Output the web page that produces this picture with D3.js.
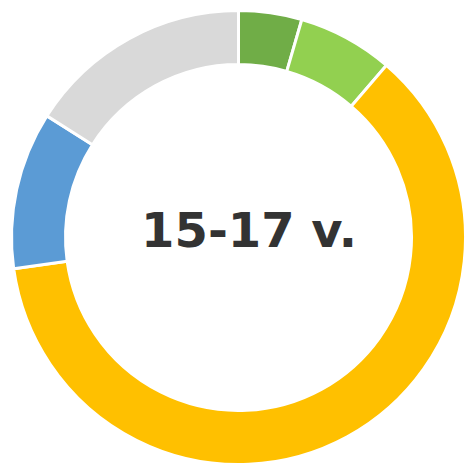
<!DOCTYPE html>
<html>
<head>
<meta charset="utf-8">
<script src="https://cdn.jsdelivr.net/npm/d3@7"></script>
<style>
  html, body { margin: 0; padding: 0; background: #fff; }
</style>
</head>
<body>
<svg id="chart" width="467" height="465"></svg>
<script>
// segment shares, clockwise from 12 o'clock
const categories = ["A", "B", "C", "D", "E"];
const values = [4.5, 6.8, 61.5, 11.2, 16.0];
const colors = ["#70AD47", "#92D050", "#FFC000", "#5B9BD5", "#D9D9D9"];
const title = "15-17 v.";

const svg = d3.select("#chart");
const cx = 238.5, cy = 237.5;
const outerR = 227, innerR = 173;

const pie = d3.pie().sort(null).value(d => d.value);
const arc = d3.arc().innerRadius(innerR).outerRadius(outerR);

const data = categories.map((c, i) => ({ cat: c, value: values[i], color: colors[i] }));

const g = svg.append("g").attr("transform", `translate(${cx},${cy})`);

g.selectAll("path")
  .data(pie(data))
  .enter()
  .append("path")
  .attr("d", arc)
  .attr("fill", d => d.data.color)
  .attr("stroke", "#fff")
  .attr("stroke-width", 3)
  .attr("stroke-linejoin", "miter");

svg.append("text")
  .attr("x", cx + 10.5)
  .attr("y", 247)
  .attr("text-anchor", "middle")
  .attr("font-family", "Verdana, 'DejaVu Sans', sans-serif")
  .attr("font-weight", "bold")
  .attr("font-size", 48)
  .attr("fill", "#333333")
  .text(title);
</script>
</body>
</html>
